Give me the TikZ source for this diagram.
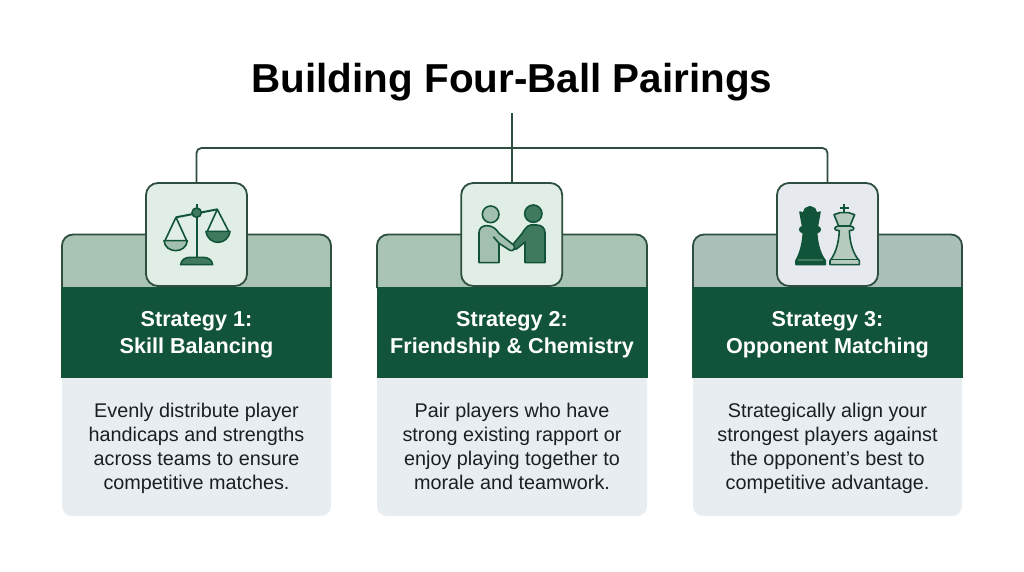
\documentclass[tikz,border=0pt]{standalone}
\usepackage{fontspec}
\setmainfont{Liberation Sans}
\definecolor{dk}{HTML}{12543A}
\definecolor{ln}{HTML}{2E4F40}
\definecolor{bandA}{HTML}{A9C3B4}
\definecolor{bandC}{HTML}{ABC0B9}
\definecolor{bodyc}{HTML}{E8EDF1}
\definecolor{iconA}{HTML}{E0EEE5}
\definecolor{iconC}{HTML}{E6EAEE}
\definecolor{midg}{HTML}{3F7A5E}
\definecolor{lightg}{HTML}{A3BFAF}
\definecolor{pale}{HTML}{B7CCBF}
\definecolor{txt}{HTML}{1B1F23}
\tikzset{
  titletext/.style={font=\bfseries\fontsize{40.4}{46}\selectfont,text=black,anchor=base,inner sep=0pt},
  wire/.style={draw=ln,line width=1.8pt,rounded corners=5pt},
  band/.style={draw=ln,line width=1.8pt},
  headbox/.style={fill=dk,minimum width=271pt,minimum height=91pt,inner sep=0pt},
  headtext/.style={text=white,align=center,inner sep=0pt,anchor=base,font=\bfseries\fontsize{21.6}{27}\selectfont},
  bodytext/.style={text=txt,align=center,inner sep=0pt,anchor=base,font=\fontsize{19.8}{23.8}\selectfont},
  iconbox/.style={draw=ln,line width=1.8pt,rounded corners=12pt,minimum width=101pt,minimum height=103pt,inner sep=0pt},
  ic/.style={line width=1.6pt,draw=dk,line join=round},
}
\newcommand{\cardback}[3]{% left x, right x, band colour
  \fill[bodyc,rounded corners=10pt] (#1,370) rectangle (#2,516);
  \filldraw[band,fill=#3] (#1,288) [rounded corners=11pt] -- (#1,234.5) -- (#2,234.5) -- (#2,288);
}
\begin{document}
\begin{tikzpicture}[x=1pt,y=-1pt]
\useasboundingbox (0,0) rectangle (1024,572);
\fill[white] (0,0) rectangle (1024,572);
\node[titletext] (title) at (512,92.5) {Building Four-Ball Pairings};

\cardback{62}{331}{bandA}
\cardback{377}{647}{bandA}
\cardback{693}{962}{bandC}

\node[headbox] (h1) at (196.5,332.5) {};
\node[headbox] (h2) at (512,332.5) {};
\node[headbox] (h3) at (827.5,332.5) {};
\node[headtext] (t1) at (196.5,353) {Strategy 1:\\Skill Balancing};
\node[headtext] (t2) at (512,353) {Strategy 2:\\Friendship \& Chemistry};
\node[headtext] (t3) at (827.5,353) {Strategy 3:\\Opponent Matching};

\node[bodytext] (b1) at (196.5,489) {Evenly distribute player\\handicaps and strengths\\across teams to ensure\\competitive matches.};
\node[bodytext] (b2) at (512,489) {Pair players who have\\strong existing rapport or\\enjoy playing together to\\morale and teamwork.};
\node[bodytext] (b3) at (827.5,489) {Strategically align your\\strongest players against\\the opponent's best to\\competitive advantage.};

\node[iconbox,fill=iconA] (i1) at (196.5,234.5) {};
\node[iconbox,fill=iconA] (i2) at (511.7,234.5) {};
\node[iconbox,fill=iconC] (i3) at (827.5,234.5) {};

\coordinate (root) at (511.7,113);
\coordinate (bus) at (511.7,148);
\draw[wire] (root) -- (i2.north);
\draw[wire] (i1.north) |- (bus);
\draw[wire] (i3.north) |- (bus);

% scales
\begin{scope}[xshift=50pt,yshift=-170pt,x=0.3333pt,y=-0.3333pt]
  \draw[ic,line width=2pt] (440,103) -- (440,265);
  \draw[ic,line width=2pt] (378,142) -- (502,118);
  \draw[ic] (345,212) -- (378,142) -- (410,212);
  \draw[ic] (472,184) -- (502,118) -- (536,184);
  \filldraw[ic,fill=midg] (440,128) circle[radius=14];
  \filldraw[ic,fill=lightg] (342,212) -- (412,212) .. controls (408,252) and (346,252) .. cycle;
  \filldraw[ic,fill=midg] (468,184) -- (540,184) .. controls (534,228) and (474,228) .. cycle;
  \filldraw[ic,fill=midg] (392,284) .. controls (394,270) and (405,262) .. (420,262) -- (460,262) .. controls (475,262) and (486,270) .. (488,284) -- cycle;
\end{scope}

% handshake
\begin{scope}[xshift=365pt,yshift=-170pt,x=0.3333pt,y=-0.3333pt]
  \filldraw[ic,fill=lightg] (377,133) circle[radius=25];
  \filldraw[ic,fill=midg] (505,131) circle[radius=26];
  \filldraw[ic,fill=midg] (540,278) -- (540,188) .. controls (540,174) and (530,165) .. (515,165)
     -- (497,165) .. controls (485,167) and (478,180) .. (470,192) -- (445,222) .. controls (440,232) and (448,242) .. (456,236)
     -- (480,216) -- (480,278) -- cycle;
  \filldraw[ic,fill=lightg] (342,278) -- (342,188) .. controls (342,175) and (352,167) .. (365,167)
     .. controls (382,167) and (392,175) .. (402,190) -- (447,226) .. controls (452,236) and (444,245) .. (435,241)
     -- (402,220) -- (402,278) -- cycle;
  \draw[ic] (385,200) -- (402,220);
\end{scope}

% chess pieces
\begin{scope}[xshift=680pt,yshift=-170pt,x=0.3333pt,y=-0.3333pt]
  \filldraw[ic,fill=dk] (348,284) -- (436,284) -- (436,272) .. controls (422,255) and (412,225) .. (410,188)
     .. controls (424,186) and (424,172) .. (412,170) -- (420,126) -- (410,130) -- (404,116) -- (390,110) -- (376,116) -- (370,130) -- (360,126)
     -- (368,170) .. controls (356,172) and (356,186) .. (370,188)
     .. controls (368,225) and (358,255) .. (348,272) -- cycle;
  \draw[line width=1.6pt,draw=midg] (354,270) -- (430,270);
  \filldraw[ic,fill=pale] (450,284) -- (538,284) -- (538,272) .. controls (522,255) and (510,225) .. (508,182)
     .. controls (526,182) and (526,170) .. (510,168) -- (524,134) -- (506,128) -- (480,128) -- (462,134) -- (476,168)
     .. controls (460,170) and (460,182) .. (478,182)
     .. controls (476,225) and (464,255) .. (450,272) -- cycle;
  \draw[ic] (476,168) -- (510,168);
  \draw[ic] (450,268) -- (538,268);
  \draw[ic,line width=2.2pt] (493,102) -- (493,128);
  \draw[ic,line width=2.2pt] (481,113) -- (506,113);
\end{scope}
\end{tikzpicture}
\end{document}
